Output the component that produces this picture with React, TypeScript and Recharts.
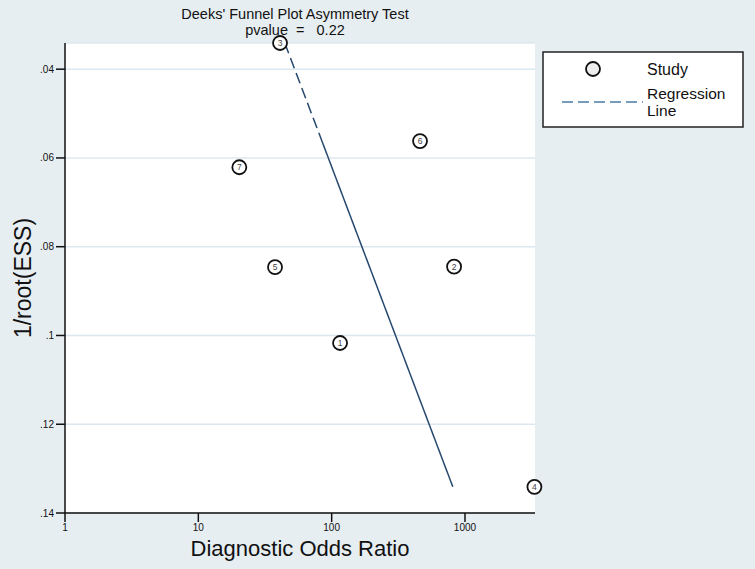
import React from 'react';
import { ComposedChart, Scatter, XAxis, YAxis, CartesianGrid } from 'recharts';

// study points (Diagnostic Odds Ratio vs 1/root(ESS))
const studyIds = [1, 2, 3, 4, 5, 6, 7];
const studyDor = [115.6, 828, 41.0, 3316, 37.6, 460, 20.3];
const studyInvRootEss = [0.1017, 0.0845, 0.0341, 0.1341, 0.0846, 0.0562, 0.0621];

// regression line, upper part dashed, lower part solid
const regDashDor = [44.5, 80.2];
const regDashEss = [0.0341, 0.0544];
const regSolidDor = [80.2, 810];
const regSolidEss = [0.0544, 0.1341];

const xTicks = [1, 10, 100, 1000];
const yTicks = [0.04, 0.06, 0.08, 0.1, 0.12, 0.14];

const studies = studyIds.map((id, i) => ({ id, x: studyDor[i], y: studyInvRootEss[i] }));
const regDash = regDashDor.map((x, i) => ({ x, y: regDashEss[i] }));
const regSolid = regSolidDor.map((x, i) => ({ x, y: regSolidEss[i] }));

const FONT = '"Liberation Sans", Arial, sans-serif';
const LINE_COLOR = '#26486e';

const StudyMarker = (props: any) => {
  const { cx, cy, payload } = props;
  if (cx == null || cy == null) return null;
  return (
    <g>
      <circle cx={cx} cy={cy} r={7} fill="#fff" stroke="#111" strokeWidth={1.8} />
      <text x={cx} y={cy + 3} textAnchor="middle" fontSize={8.5} fill="#444" fontFamily={FONT}>
        {payload.id}
      </text>
    </g>
  );
};

const fmtY = (v: number) => String(v).replace(/^0/, '');

export default function App() {
  return (
    <div style={{ position: 'absolute', left: 0, top: 0, width: 755, height: 569, background: '#e7eef2' }}>
      <ComposedChart width={755} height={569} margin={{ top: 43, right: 220, bottom: 0, left: 0 }}>
        <CartesianGrid vertical={false} stroke="#dce8ef" strokeWidth={1.5} fill="#ffffff" />
        <XAxis
          dataKey="x"
          type="number"
          scale="log"
          domain={[1, 3350]}
          ticks={xTicks}
          height={56}
          tickSize={9}
          tick={{ fontSize: 10, fill: '#111', fontFamily: FONT }}
          stroke="#111"
          axisLine={{ stroke: '#111', strokeWidth: 1.5 }}
          tickLine={{ stroke: '#111', strokeWidth: 1.5 }}
        />
        <YAxis
          dataKey="y"
          type="number"
          reversed
          domain={[0.0341, 0.14]}
          ticks={yTicks}
          tickFormatter={fmtY}
          width={65}
          tickSize={9}
          tick={{ fontSize: 10, fill: '#111', fontFamily: FONT }}
          axisLine={{ stroke: '#111', strokeWidth: 1.5 }}
          tickLine={{ stroke: '#111', strokeWidth: 1.5 }}
        />

        <text x={295} y={19} textAnchor="middle" fontSize={14.5} fill="#111" fontFamily={FONT}>
          Deeks' Funnel Plot Asymmetry Test
        </text>
        <text x={295} y={35} textAnchor="middle" fontSize={14.5} fill="#111" fontFamily={FONT} style={{ whiteSpace: 'pre' }}>
          {'pvalue  =   0.22'}
        </text>

        <Scatter
          data={regDash}
          isAnimationActive={false}
          line={{ stroke: LINE_COLOR, strokeWidth: 1.5, strokeDasharray: '11 5' }}
          shape={() => null}
        />
        <Scatter
          data={regSolid}
          isAnimationActive={false}
          line={{ stroke: LINE_COLOR, strokeWidth: 1.5 }}
          shape={() => null}
        />
        <Scatter data={studies} isAnimationActive={false} shape={<StudyMarker />} />

        <text x={300} y={556} textAnchor="middle" fontSize={22} fill="#111" fontFamily={FONT}>
          Diagnostic Odds Ratio
        </text>
        <text
          x={31}
          y={278}
          textAnchor="middle"
          fontSize={23}
          fill="#111"
          fontFamily={FONT}
          transform="rotate(-90, 31, 278)"
        >
          1/root(ESS)
        </text>

        <g>
          <rect x={543} y={52} width={200} height={75} fill="#fff" stroke="#222" strokeWidth={1.5} />
          <circle cx={593} cy={69} r={7} fill="#eee" stroke="#111" strokeWidth={1.8} />
          <text x={647} y={75} fontSize={16} fill="#111" fontFamily={FONT}>Study</text>
          <line x1={562} y1={102} x2={643} y2={102} stroke="#4a7ba7" strokeWidth={1.5} strokeDasharray="11 5" />
          <text x={647} y={99} fontSize={15.5} fill="#111" fontFamily={FONT}>Regression</text>
          <text x={647} y={116} fontSize={15.5} fill="#111" fontFamily={FONT}>Line</text>
        </g>
      </ComposedChart>
    </div>
  );
}
